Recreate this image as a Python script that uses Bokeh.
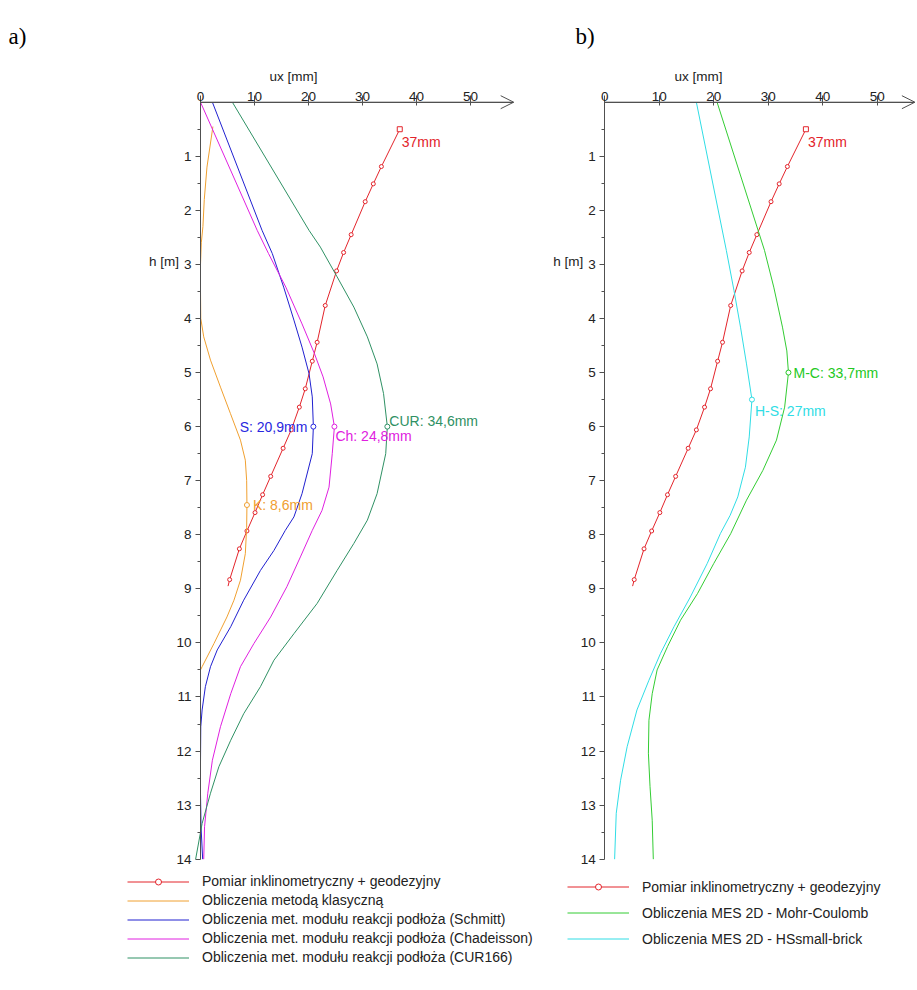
from bokeh.plotting import figure
from bokeh.models import Range1d, FixedTicker, Label, Arrow, OpenHead, Legend, LegendItem
from bokeh.layouts import row
from bokeh.embed import file_html
from bokeh.resources import INLINE
from bokeh.core.properties import value

# ---------------- data ----------------
# measured (inclinometer + geodetic), identical in both panels
meas_h = [0.50, 1.19, 1.51, 1.84, 2.45, 2.78, 3.12, 3.76, 4.44, 4.79, 5.30, 5.64,
          6.06, 6.40, 6.92, 7.26, 7.59, 7.93, 8.26, 8.83, 8.95]
meas_ux = [36.9, 33.5, 32.0, 30.5, 27.9, 26.5, 25.2, 23.1, 21.6, 20.7, 19.4, 18.3,
           16.8, 15.3, 13.0, 11.5, 10.1, 8.6, 7.2, 5.4, 5.1]
meas_max_label = "37mm"

# panel a) calculations
klas_h = [0.45, 1.20, 1.80, 2.30, 2.60, 3.00, 3.50, 4.00, 4.34, 4.77, 5.27, 5.76,
          6.25, 6.62, 7.00, 7.45, 7.86, 8.35, 8.84, 9.21, 9.52, 10.01, 10.44, 10.50]
klas_ux = [2.3, 1.2, 0.7, 0.45, 0.15, 0.0, 0.0, 0.05, 0.6, 1.85, 3.7, 5.55,
           7.4, 8.3, 8.55, 8.6, 8.55, 8.3, 7.4, 6.2, 4.9, 2.5, 0.3, 0.0]

schmitt_h = [0.0, 2.37, 2.80, 3.42, 4.03, 4.53, 5.02, 5.45, 6.00, 6.50, 7.24, 7.67,
             7.92, 8.29, 8.66, 9.21, 9.70, 10.13, 10.44, 10.81, 11.24, 11.55, 12.20,
             12.80, 13.40, 14.00]
schmitt_ux = [2.2, 11.4, 13.3, 15.4, 17.3, 18.8, 20.1, 20.7, 20.9, 20.7, 18.8, 17.3,
              15.7, 13.6, 11.1, 8.0, 5.6, 3.1, 1.85, 0.9, 0.3, 0.05, 0.0,
              0.0, 0.1, 0.4]

chad_h = [0.0, 2.37, 2.80, 3.42, 4.10, 4.65, 5.08, 5.58, 6.00, 6.50, 7.12, 7.55,
          7.92, 8.41, 8.96, 9.52, 10.01, 10.44, 10.94, 11.55, 12.17, 12.78, 13.40, 14.00]
chad_ux = [0.0, 10.5, 12.6, 15.8, 18.8, 21.1, 22.7, 24.1, 24.8, 24.4, 23.8, 22.5,
           20.7, 18.5, 16.0, 13.0, 9.9, 7.4, 5.6, 3.7, 2.2, 1.35, 0.75, 0.6]

cur_h = [0.0, 2.37, 2.68, 3.23, 3.79, 4.34, 4.84, 5.39, 6.00, 6.50, 7.24, 7.73,
         8.16, 8.66, 9.27, 9.83, 10.32, 10.81, 11.31, 11.80, 12.29, 12.78, 13.34, 14.00]
cur_ux = [5.9, 20.1, 22.2, 25.3, 28.4, 30.9, 32.7, 33.9, 34.6, 34.3, 32.7, 30.9,
          28.4, 25.3, 21.6, 17.3, 13.6, 11.1, 8.0, 5.6, 3.4, 1.85, 0.3, -0.9]

peaks_a_text = ["K: 8,6mm", "S: 20,9mm", "Ch: 24,8mm", "CUR: 34,6mm"]
peaks_a_ux = [8.6, 20.9, 24.8, 34.6]
peaks_a_h = [7.45, 6.0, 6.0, 6.0]

# panel b) FEM calculations
mc_h = [0.0, 2.74, 3.42, 4.16, 4.60, 5.00, 5.64, 6.25, 6.81, 7.36, 7.98, 8.53,
        9.09, 9.58, 10.07, 10.50, 10.94, 11.43, 12.04, 12.66, 13.28, 14.00]
mc_ux = [20.6, 29.3, 31.0, 32.6, 33.4, 33.7, 33.0, 31.5, 29.0, 26.0, 23.1, 20.0,
         17.0, 13.9, 11.5, 9.6, 8.7, 8.1, 8.0, 8.3, 8.7, 8.9]

hs_h = [0.0, 2.74, 3.48, 4.16, 4.84, 5.50, 6.19, 6.75, 7.30, 7.64, 7.98, 8.53, 9.15,
        9.70, 10.20, 10.69, 11.24, 11.92, 12.54, 13.15, 14.00]
hs_ux = [16.8, 22.3, 23.7, 24.9, 26.0, 27.0, 26.5, 25.8, 24.4, 23.0, 21.2, 18.8, 15.7,
         12.7, 10.2, 8.1, 5.9, 4.1, 2.9, 2.1, 1.8]

peaks_b_text = ["M-C: 33,7mm", "H-S: 27mm"]
peaks_b_ux = [33.7, 27.0]
peaks_b_h = [5.0, 5.5]

x_ticks = [0, 10, 20, 30, 40, 50]
y_ticks = list(range(1, 15))
y_minor = [i + 0.5 for i in range(14)]

legend_a = ["Pomiar inklinometryczny + geodezyjny",
            "Obliczenia metodą klasyczną",
            "Obliczenia met. modułu reakcji podłoża (Schmitt)",
            "Obliczenia met. modułu reakcji podłoża (Chadeisson)",
            "Obliczenia met. modułu reakcji podłoża (CUR166)"]
legend_b = ["Pomiar inklinometryczny + geodezyjny",
            "Obliczenia MES 2D - Mohr-Coulomb",
            "Obliczenia MES 2D - HSsmall-brick"]

# ---------------- styles ----------------
AX = "#505050"
FONT = "Liberation Sans"
RED = "#e3242b"
ORANGE = "#f0a030"
BLUE = "#2020d0"
MAGENTA = "#e020e0"
TEAL = "#2f9164"
GREEN = "#33cc33"
CYAN = "#30dde5"

PX_M = 54.07       # pixels per metre
FIG_H = 988
ORIGIN_Y = 101.7   # pixel offset of h = 0 from figure top


def make_panel(width, origin_x, px_mm, axis_end, letter, letter_x):
    x0 = -origin_x / px_mm
    x1 = (width - origin_x) / px_mm
    y_top = -ORIGIN_Y / PX_M
    y_bot = (FIG_H - ORIGIN_Y) / PX_M
    p = figure(width=width, height=FIG_H, output_backend="svg", toolbar_location=None,
               x_axis_location="above",
               x_range=Range1d(x0, x1), y_range=Range1d(y_bot, y_top),
               min_border=0)
    p.outline_line_color = None
    p.grid.visible = False
    p.background_fill_color = "white"
    p.border_fill_color = "white"

    xa = p.xaxis[0]
    xa.fixed_location = 0
    xa.bounds = (0, axis_end)
    xa.ticker = FixedTicker(ticks=x_ticks)
    xa.axis_line_color = AX
    xa.major_tick_line_color = AX
    xa.major_tick_in = 3
    xa.major_tick_out = 7
    xa.minor_tick_line_color = None
    xa.major_label_standoff = -6
    xa.major_label_text_font = FONT
    xa.major_label_text_font_size = "13.5px"
    xa.major_label_text_color = "#222222"

    ya = p.yaxis[0]
    ya.fixed_location = 0
    ya.ticker = FixedTicker(ticks=y_ticks, minor_ticks=y_minor)
    ya.bounds = (0, 14)
    ya.axis_line_color = AX
    ya.major_tick_line_color = AX
    ya.minor_tick_line_color = AX
    ya.major_tick_in = 0
    ya.major_tick_out = 5
    ya.minor_tick_in = 0
    ya.minor_tick_out = 3
    ya.major_label_standoff = 4
    ya.major_label_text_font = FONT
    ya.major_label_text_font_size = "13.5px"
    ya.major_label_text_color = "#222222"

    p.add_layout(Arrow(end=OpenHead(size=13, line_color=AX, line_width=1),
                       x_start=0, y_start=0, x_end=axis_end, y_end=0,
                       line_color=AX, line_width=1))
    p.add_layout(Label(x=17.2, y=-0.475, text="ux [mm]", text_font=FONT,
                       text_font_size="13.5px", text_color="#222222",
                       text_align="center", text_baseline="middle"))
    p.add_layout(Label(x=-21.5 / px_mm, y=2.95, text="h [m]", text_font=FONT,
                       text_font_size="13.5px", text_color="#222222",
                       text_align="right", text_baseline="middle"))
    p.add_layout(Label(x=letter_x, y=-1.224, text=letter,
                       text_font="Liberation Serif", text_font_size="23px",
                       text_color="#000000", text_align="left",
                       text_baseline="alphabetic"))
    return p


def add_measured(p):
    r_line = p.line(meas_ux, meas_h, line_color=RED, line_width=1)
    r_pts = p.scatter(meas_ux[1:-1], meas_h[1:-1], marker="circle", size=4,
                      line_color=RED, fill_color="white", line_width=1)
    p.scatter(meas_ux[:1], meas_h[:1], marker="square", size=5,
              line_color=RED, fill_color="white", line_width=1)
    p.text(meas_ux[:1], meas_h[:1], text=[meas_max_label], text_font=value(FONT),
           text_font_size="14px", text_color=RED, text_align="left",
           text_baseline="middle", x_offset=2, y_offset=13)
    return [r_line, r_pts]


def add_peaks(p, xs, ys, texts, colors, aligns, dx, dy):
    for i in range(len(xs)):
        p.scatter([xs[i]], [ys[i]], marker="circle", size=5, line_color=colors[i],
                  fill_color="white", line_width=1)
        p.text([xs[i]], [ys[i]], text=[texts[i]], text_font=value(FONT),
               text_font_size="14px", text_color=colors[i], text_align=aligns[i],
               text_baseline="middle", x_offset=dx[i], y_offset=dy[i])


def style_legend(leg, loc, spacing):
    leg.location = loc
    leg.label_text_font = FONT
    leg.label_text_font_size = "14px"
    leg.label_text_color = "#222222"
    leg.glyph_width = 62
    leg.glyph_height = 15
    leg.label_height = 15
    leg.label_standoff = 13
    leg.spacing = spacing
    leg.padding = 0
    leg.margin = 0
    leg.border_line_color = None
    leg.background_fill_alpha = 0


# ---------------- panel a ----------------
pa = make_panel(548, 200, 5.4, 58.0, "a)", -35.56)
ra_meas = add_measured(pa)
ra_k = pa.line(klas_ux, klas_h, line_color=ORANGE, line_width=1)
ra_s = pa.line(schmitt_ux, schmitt_h, line_color=BLUE, line_width=1)
ra_c = pa.line(chad_ux, chad_h, line_color=MAGENTA, line_width=1)
ra_u = pa.line(cur_ux, cur_h, line_color=TEAL, line_width=1)
add_peaks(pa, peaks_a_ux, peaks_a_h, peaks_a_text,
          [ORANGE, "#2828e0", MAGENTA, TEAL],
          ["left", "right", "left", "left"],
          [6, -6, 1, 2], [0, 0, 9, -6])
leg_a = Legend(items=[LegendItem(label=legend_a[0], renderers=ra_meas),
                      LegendItem(label=legend_a[1], renderers=[ra_k]),
                      LegendItem(label=legend_a[2], renderers=[ra_s]),
                      LegendItem(label=legend_a[3], renderers=[ra_c]),
                      LegendItem(label=legend_a[4], renderers=[ra_u])])
style_legend(leg_a, (127, 23), 3)
pa.add_layout(leg_a)

# ---------------- panel b ----------------
pb = make_panel(367, 56.3, 5.45, 56.9, "b)", -5.38)
rb_meas = add_measured(pb)
rb_mc = pb.line(mc_ux, mc_h, line_color=GREEN, line_width=1)
rb_hs = pb.line(hs_ux, hs_h, line_color=CYAN, line_width=1)
add_peaks(pb, peaks_b_ux, peaks_b_h, peaks_b_text,
          ["#22c822", CYAN], ["left", "left"], [5, 3], [0, 11])
leg_b = Legend(items=[LegendItem(label=legend_b[0], renderers=rb_meas),
                      LegendItem(label=legend_b[1], renderers=[rb_mc]),
                      LegendItem(label=legend_b[2], renderers=[rb_hs])])
style_legend(leg_b, (19, 41.5), 10)
pb.add_layout(leg_b)

layout = row(pa, pb)
open("out.html", "w").write(file_html(layout, INLINE))
